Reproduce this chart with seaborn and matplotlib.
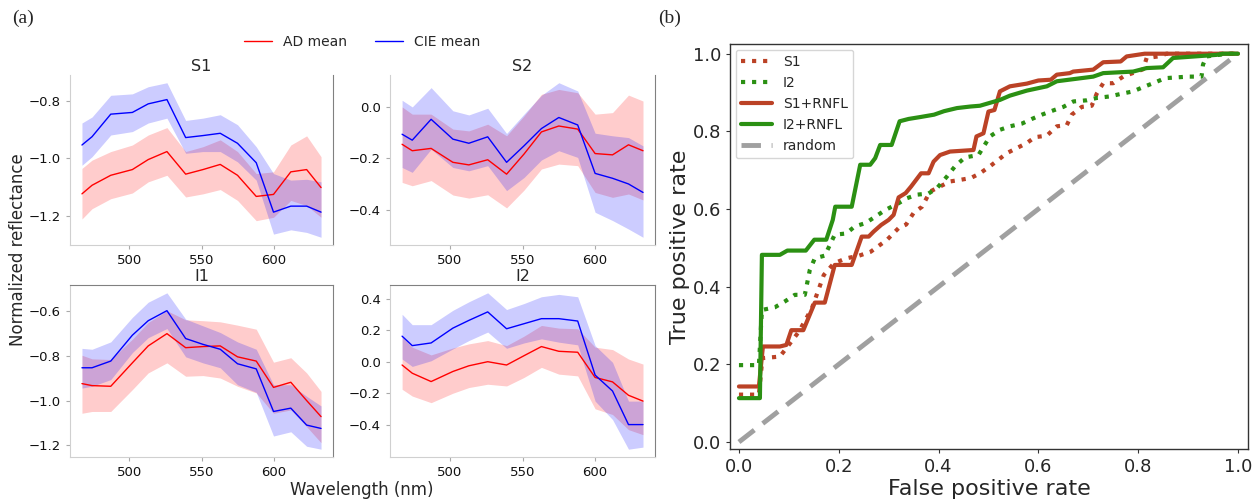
import matplotlib
matplotlib.use("Agg")
import matplotlib.pyplot as plt
import seaborn as sns

# wavelengths (nm) shared by the four spectra panels
wavelengths = [467, 474, 487, 502, 513, 526, 539, 551, 563, 575, 588, 600, 612, 623, 633]

# S1
s1_ad_mean = [-1.124, -1.094, -1.059, -1.039, -1.004, -0.976, -1.055, -1.039, -1.021, -1.059, -1.133, -1.126, -1.047, -1.039, -1.102]
s1_ad_hi = [-1.035, -1.006, -0.976, -0.953, -0.918, -0.892, -0.976, -0.959, -0.935, -0.976, -1.053, -1.047, -0.953, -0.921, -0.994]
s1_ad_lo = [-1.212, -1.176, -1.141, -1.121, -1.082, -1.059, -1.135, -1.124, -1.109, -1.147, -1.218, -1.206, -1.147, -1.165, -1.206]
s1_cie_mean = [-0.953, -0.924, -0.845, -0.839, -0.809, -0.794, -0.927, -0.920, -0.912, -0.947, -1.015, -1.188, -1.167, -1.167, -1.188]
s1_cie_hi = [-0.876, -0.855, -0.779, -0.774, -0.749, -0.735, -0.867, -0.859, -0.847, -0.882, -0.959, -1.053, -1.076, -1.073, -1.082]
s1_cie_lo = [-1.024, -0.994, -0.918, -0.906, -0.876, -0.859, -0.982, -0.976, -0.976, -1.012, -1.076, -1.265, -1.250, -1.259, -1.276]

# S2
s2_ad_mean = [-0.145, -0.170, -0.161, -0.215, -0.225, -0.205, -0.261, -0.183, -0.097, -0.074, -0.086, -0.181, -0.186, -0.147, -0.170]
s2_ad_hi = [0.000, -0.028, -0.028, -0.086, -0.093, -0.067, -0.112, -0.035, 0.049, 0.068, 0.055, -0.028, -0.022, 0.046, 0.023]
s2_ad_lo = [-0.293, -0.306, -0.286, -0.342, -0.354, -0.341, -0.392, -0.323, -0.241, -0.222, -0.228, -0.332, -0.351, -0.338, -0.361]
s2_cie_mean = [-0.106, -0.129, -0.048, -0.125, -0.141, -0.116, -0.215, -0.151, -0.084, -0.041, -0.070, -0.258, -0.277, -0.299, -0.332]
s2_cie_hi = [0.026, 0.000, 0.075, -0.015, -0.031, -0.005, -0.103, -0.028, 0.045, 0.094, 0.062, -0.102, -0.112, -0.119, -0.151]
s2_cie_lo = [-0.235, -0.254, -0.164, -0.235, -0.248, -0.228, -0.325, -0.274, -0.206, -0.170, -0.196, -0.409, -0.441, -0.474, -0.506]

# I1
i1_ad_mean = [-0.924, -0.933, -0.936, -0.831, -0.755, -0.700, -0.763, -0.758, -0.755, -0.804, -0.823, -0.941, -0.918, -1.000, -1.072]
i1_ad_hi = [-0.797, -0.813, -0.816, -0.725, -0.650, -0.597, -0.638, -0.642, -0.647, -0.662, -0.680, -0.828, -0.808, -0.876, -0.959]
i1_ad_lo = [-1.057, -1.049, -1.049, -0.951, -0.876, -0.831, -0.891, -0.888, -0.899, -0.936, -0.966, -1.057, -1.042, -1.117, -1.189]
i1_cie_mean = [-0.853, -0.853, -0.823, -0.707, -0.642, -0.597, -0.722, -0.748, -0.770, -0.835, -0.858, -1.049, -1.034, -1.110, -1.125]
i1_cie_hi = [-0.766, -0.770, -0.737, -0.627, -0.559, -0.517, -0.635, -0.665, -0.695, -0.737, -0.770, -0.929, -0.929, -0.981, -1.024]
i1_cie_lo = [-0.944, -0.936, -0.906, -0.785, -0.718, -0.677, -0.804, -0.831, -0.853, -0.929, -0.963, -1.159, -1.140, -1.205, -1.218]

# I2
i2_ad_mean = [-0.021, -0.073, -0.126, -0.062, -0.026, 0.000, -0.021, 0.038, 0.096, 0.066, 0.060, -0.100, -0.128, -0.213, -0.250]
i2_ad_hi = [0.156, 0.092, 0.043, 0.087, 0.113, 0.134, 0.102, 0.162, 0.230, 0.213, 0.209, 0.092, 0.077, 0.017, -0.015]
i2_ad_lo = [-0.175, -0.218, -0.260, -0.200, -0.164, -0.143, -0.154, -0.100, -0.036, -0.079, -0.090, -0.299, -0.335, -0.431, -0.463]
i2_cie_mean = [0.162, 0.102, 0.119, 0.213, 0.262, 0.316, 0.209, 0.241, 0.273, 0.273, 0.258, -0.085, -0.186, -0.399, -0.399]
i2_cie_hi = [0.301, 0.235, 0.235, 0.326, 0.380, 0.437, 0.331, 0.369, 0.412, 0.427, 0.412, 0.102, -0.004, -0.250, -0.250]
i2_cie_lo = [0.017, -0.030, 0.006, 0.081, 0.134, 0.188, 0.085, 0.119, 0.145, 0.124, 0.107, -0.250, -0.367, -0.555, -0.542]

# ROC curves (false positive rate, true positive rate)
s1_fpr = [0, 0.04, 0.047, 0.082, 0.1, 0.12, 0.146, 0.17, 0.19, 0.215, 0.241, 0.264, 0.297, 0.32, 0.335, 0.35, 0.367,
          0.383, 0.403, 0.423, 0.443, 0.465, 0.483, 0.503, 0.52, 0.537, 0.557, 0.577, 0.593, 0.617, 0.637, 0.657,
          0.667, 0.687, 0.707, 0.717, 0.73, 0.75, 0.77, 0.81, 0.817, 0.84, 0.857, 1.0]
s1_tpr = [0.122, 0.122, 0.216, 0.22, 0.25, 0.284, 0.344, 0.43, 0.46, 0.473, 0.48, 0.49, 0.521, 0.551, 0.56, 0.59, 0.606,
          0.645, 0.658, 0.671, 0.675, 0.68, 0.692, 0.71, 0.727, 0.744, 0.757, 0.77, 0.785, 0.789, 0.813, 0.816,
          0.843, 0.863, 0.866, 0.897, 0.924, 0.924, 0.941, 0.96, 0.989, 0.993, 1.0, 1.0]
i2_fpr = [0, 0.04, 0.046, 0.072, 0.092, 0.112, 0.132, 0.142, 0.152, 0.172, 0.192, 0.215, 0.232, 0.254, 0.274, 0.294,
          0.32, 0.337, 0.357, 0.38, 0.397, 0.417, 0.433, 0.453, 0.48, 0.503, 0.523, 0.543, 0.567, 0.587, 0.607, 0.63,
          0.65, 0.67, 0.697, 0.717, 0.743, 0.767, 0.79, 0.81, 0.83, 0.854, 0.877, 0.9, 0.927, 0.93, 0.937, 0.98, 1.0]
i2_tpr = [0.198, 0.198, 0.34, 0.347, 0.362, 0.379, 0.379, 0.443, 0.473, 0.48, 0.534, 0.537, 0.555, 0.564, 0.581, 0.598,
          0.615, 0.628, 0.637, 0.64, 0.654, 0.684, 0.71, 0.733, 0.739, 0.787, 0.804, 0.813, 0.82, 0.832, 0.843, 0.854,
          0.863, 0.877, 0.88, 0.886, 0.89, 0.897, 0.903, 0.914, 0.924, 0.937, 0.939, 0.941, 0.941, 0.972, 0.993, 1.0, 1.0]
s1_rnfl_fpr = [0, 0.04, 0.048, 0.082, 0.095, 0.105, 0.129, 0.152, 0.172, 0.192, 0.226, 0.246, 0.26, 0.27, 0.285, 0.3,
               0.31, 0.32, 0.334, 0.345, 0.365, 0.38, 0.39, 0.403, 0.423, 0.47, 0.476, 0.49, 0.5, 0.512, 0.523, 0.543,
               0.577, 0.6, 0.625, 0.637, 0.663, 0.67, 0.71, 0.73, 0.765, 0.777, 0.813, 1.0]
s1_rnfl_tpr = [0.143, 0.143, 0.246, 0.246, 0.25, 0.288, 0.288, 0.359, 0.359, 0.456, 0.456, 0.529, 0.529, 0.542, 0.559,
               0.572, 0.585, 0.63, 0.641, 0.658, 0.692, 0.692, 0.722, 0.739, 0.748, 0.752, 0.787, 0.795, 0.851, 0.855,
               0.903, 0.916, 0.923, 0.931, 0.933, 0.946, 0.95, 0.954, 0.959, 0.978, 0.98, 0.993, 1.0, 1.0]
i2_rnfl_fpr = [0, 0.042, 0.046, 0.082, 0.097, 0.134, 0.151, 0.175, 0.188, 0.193, 0.226, 0.243, 0.263, 0.273, 0.283,
               0.306, 0.322, 0.34, 0.364, 0.391, 0.411, 0.437, 0.464, 0.483, 0.523, 0.543, 0.577, 0.617, 0.637, 0.71,
               0.73, 0.79, 0.817, 0.85, 0.87, 0.957, 0.97, 1.0]
i2_rnfl_tpr = [0.113, 0.113, 0.482, 0.482, 0.493, 0.493, 0.521, 0.521, 0.572, 0.606, 0.606, 0.714, 0.714, 0.731, 0.765,
               0.765, 0.826, 0.832, 0.837, 0.843, 0.852, 0.86, 0.864, 0.866, 0.881, 0.892, 0.905, 0.916, 0.929, 0.941,
               0.95, 0.954, 0.963, 0.965, 0.989, 0.997, 1.0, 1.0]
random_line = [0, 1]

sns.set_style("white")
plt.rcParams['font.family'] = ['DejaVu Sans']

fig = plt.figure(figsize=(12.59, 5), dpi=100)

panels = [
    ("S1", [0.0556, 0.51, 0.2089, 0.34], s1_ad_mean, s1_ad_lo, s1_ad_hi, s1_cie_mean, s1_cie_lo, s1_cie_hi, [-0.8, -1.0, -1.2]),
    ("S2", [0.3098, 0.51, 0.2105, 0.34], s2_ad_mean, s2_ad_lo, s2_ad_hi, s2_cie_mean, s2_cie_lo, s2_cie_hi, [0.0, -0.2, -0.4]),
    ("I1", [0.0556, 0.086, 0.2089, 0.344], i1_ad_mean, i1_ad_lo, i1_ad_hi, i1_cie_mean, i1_cie_lo, i1_cie_hi, [-0.6, -0.8, -1.0, -1.2]),
    ("I2", [0.3098, 0.086, 0.2105, 0.344], i2_ad_mean, i2_ad_lo, i2_ad_hi, i2_cie_mean, i2_cie_lo, i2_cie_hi, [0.4, 0.2, 0.0, -0.2, -0.4]),
]

spec_axes = []
for k, (name, rect, ad_m, ad_lo, ad_hi, cie_m, cie_lo, cie_hi, yt) in enumerate(panels):
    ax = fig.add_axes(rect)
    ax.fill_between(wavelengths, ad_lo, ad_hi, color='red', alpha=0.2, lw=0)
    ax.fill_between(wavelengths, cie_lo, cie_hi, color='blue', alpha=0.2, lw=0)
    sns.lineplot(x=wavelengths, y=ad_m, ax=ax, color='red', lw=1, label='AD mean' if k == 0 else None)
    sns.lineplot(x=wavelengths, y=cie_m, ax=ax, color='blue', lw=1, label='CIE mean' if k == 0 else None)
    ax.set_xticks([500, 550, 600])
    ax.set_yticks(yt)
    ax.tick_params(labelsize=9.5, length=3, color='#aaaaaa', labelcolor='#111111', left=True, bottom=True)
    ax.set_title(name, fontsize=11.5, pad=3)
    ax.spines['left'].set_color('#d0d0d0')
    ax.spines['bottom'].set_color('#d0d0d0')
    ax.spines['right'].set_color('#808080')
    if k < 2:
        ax.spines['top'].set_visible(False)
    else:
        ax.spines['top'].set_color('#808080')
    if ax.get_legend() is not None:
        ax.get_legend().remove()
    spec_axes.append(ax)

handles, labels = spec_axes[0].get_legend_handles_labels()
fig.legend(handles, labels, loc='center', bbox_to_anchor=(0.2875, 0.916), ncol=2, frameon=False,
           fontsize=10, handlelength=2.0, columnspacing=2.0)

fig.text(0.0143, 0.5, 'Normalized reflectance', rotation=90, ha='center', va='center', fontsize=12)
fig.text(0.2875, 0.02, 'Wavelength (nm)', ha='center', va='center', fontsize=12)
fig.text(0.0095, 0.964, '(a)', ha='left', va='center', fontsize=14, family='Liberation Serif')
fig.text(0.523, 0.964, '(b)', ha='left', va='center', fontsize=14, family='Liberation Serif')

# ROC panel
roc_red = '#bb4226'
roc_green = '#2b9013'
ax = fig.add_axes([0.5798, 0.102, 0.4114, 0.81])
sns.lineplot(x=s1_fpr, y=s1_tpr, ax=ax, sort=False, estimator=None, color=roc_red, lw=3, linestyle=':', label='S1')
sns.lineplot(x=i2_fpr, y=i2_tpr, ax=ax, sort=False, estimator=None, color=roc_green, lw=3, linestyle=':', label='I2')
sns.lineplot(x=s1_rnfl_fpr, y=s1_rnfl_tpr, ax=ax, sort=False, estimator=None, color=roc_red, lw=3, label='S1+RNFL')
sns.lineplot(x=i2_rnfl_fpr, y=i2_rnfl_tpr, ax=ax, sort=False, estimator=None, color=roc_green, lw=3, label='I2+RNFL')
sns.lineplot(x=random_line, y=random_line, ax=ax, sort=False, estimator=None, color='#a0a0a0', lw=3.5,
             linestyle=(0, (4, 2.2)), label='random')
ax.set_xlim(-0.018, 1.02)
ax.set_ylim(-0.018, 1.025)
ax.set_xticks([0.0, 0.2, 0.4, 0.6, 0.8, 1.0])
ax.set_yticks([0.0, 0.2, 0.4, 0.6, 0.8, 1.0])
ax.tick_params(labelsize=13, length=3, color='#333333', left=True, bottom=True)
for sp in ax.spines.values():
    sp.set_color('#333333')
    sp.set_linewidth(1)
ax.set_xlabel('False positive rate', fontsize=16, labelpad=2)
ax.set_ylabel('True positive rate', fontsize=16, labelpad=2)
ax.legend(loc='upper left', fontsize=10, frameon=True, handlelength=2.2, borderaxespad=0.4)

fig.savefig('out.png', dpi=100)
